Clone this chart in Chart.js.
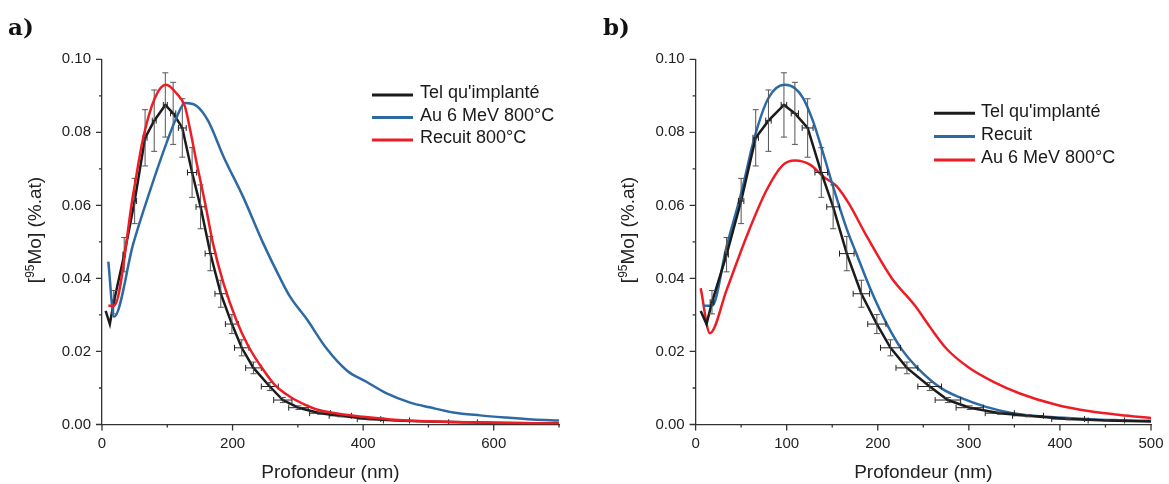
<!DOCTYPE html>
<html><head><meta charset="utf-8">
<script src="https://cdn.jsdelivr.net/npm/chart.js@4.4.1/dist/chart.umd.min.js"></script>
<style>
html,body{margin:0;padding:0;background:#fff;}
#wrap{position:relative;width:1169px;height:484px;overflow:hidden;background:#fff;}
canvas{position:absolute;top:0;}
.lab{position:absolute;font-family:'DejaVu Serif','Liberation Serif',serif;font-weight:bold;font-size:23px;line-height:22px;color:#111;}
</style></head><body>
<div id="wrap">
<canvas id="ca" width="585" height="484" style="left:0px"></canvas>
<canvas id="cb" width="579" height="484" style="left:590px"></canvas>
<div class="lab" style="left:8px;top:16px">a)</div>
<div class="lab" style="left:603px;top:16px">b)</div>
</div>
<script>
// ---- Data (depth in nm, concentration in %.at) ----
// "Tel qu'implanté" (as implanted) with error bars – same in both panels
const DEPTH_TQI = [5.6, 12, 18, 34, 50, 66, 80, 97, 109, 123, 138, 151, 166, 182, 199, 214, 232, 257, 277, 301, 334, 365, 409, 451, 500, 553, 620, 700];
const CONC_TQI  = [0.0311, 0.0275, 0.0335, 0.0465, 0.0612, 0.0785, 0.0832, 0.0875, 0.0852, 0.0812, 0.0690, 0.0596, 0.0468, 0.0358, 0.0275, 0.0210, 0.0155, 0.0104, 0.0067, 0.0046, 0.0031, 0.0024, 0.0015, 0.0011, 0.0008, 0.0006, 0.0004, 0.0003];
const ERRY_TQI  = [0, 0, 0.0032, 0.0047, 0.0062, 0.0077, 0.0084, 0.0088, 0.0085, 0.0080, 0.0068, 0.0060, 0.0047, 0.0037, 0.0026, 0.0022, 0.0016, 0.0011, 0.0007, 0.0005, 0.0003, 0.0003, 0.0002, 0.0001, 0, 0.0001, 0, 0];
const ERRX_TQI  = [0, 0, 2, 2, 3, 3, 3, 3, 4, 6, 7, 7, 8, 9, 10, 11, 12, 13, 14, 15, 16, 17, 18, 20, 0, 22, 0, 0];

// Panel a) "Au 6 MeV 800°C"
const DEPTH_A_AU = [9.7, 18.4, 48, 73.5, 99, 114, 127, 145, 163, 186, 216, 247, 273, 288, 313, 344, 375, 405, 436, 472, 502, 538, 579, 620, 660, 700];
const CONC_A_AU  = [0.0446, 0.0295, 0.0496, 0.0640, 0.0772, 0.0840, 0.0880, 0.0872, 0.0830, 0.0734, 0.0624, 0.0496, 0.0400, 0.0350, 0.0290, 0.0208, 0.0148, 0.0117, 0.0085, 0.0060, 0.0047, 0.0033, 0.0025, 0.0019, 0.0014, 0.0011];
// Panel a) "Recuit 800°C"
const DEPTH_A_REC = [9.7, 18.4, 48, 63, 81, 98, 114, 127, 135, 145, 158, 170, 186, 206, 224, 247, 265, 288, 310, 329, 360, 400, 442, 500, 600, 700];
const CONC_A_REC  = [0.0325, 0.0325, 0.0633, 0.0784, 0.0894, 0.0930, 0.0907, 0.0871, 0.0807, 0.0716, 0.0606, 0.0496, 0.0387, 0.0285, 0.0215, 0.0150, 0.0108, 0.0076, 0.0055, 0.0041, 0.0030, 0.0021, 0.0014, 0.0009, 0.0005, 0.0003];

// Panel b) "Recuit"
const DEPTH_B_REC = [8, 18, 34, 50, 65, 80, 98, 109, 118, 129, 140, 151, 166, 177, 193, 210, 226, 244, 270, 292, 318, 348, 385, 422, 460, 500];
const CONC_B_REC  = [0.0325, 0.0325, 0.0487, 0.0633, 0.0789, 0.0894, 0.0930, 0.0921, 0.0894, 0.0830, 0.0743, 0.0651, 0.0535, 0.0465, 0.0365, 0.0275, 0.0207, 0.0154, 0.0099, 0.0072, 0.0049, 0.0031, 0.0021, 0.0016, 0.0012, 0.0010];
// Panel b) "Au 6 MeV 800°C"
const DEPTH_B_AU = [5.6, 15.8, 34, 56, 78, 96, 109, 126, 140, 155, 168, 188, 215, 241, 257, 276, 301, 327, 356, 396, 433, 466, 500];
const CONC_B_AU  = [0.0373, 0.0250, 0.0368, 0.0515, 0.0642, 0.0711, 0.0723, 0.0711, 0.0679, 0.0652, 0.0606, 0.0515, 0.0402, 0.0325, 0.0268, 0.0206, 0.0154, 0.0117, 0.0085, 0.0054, 0.0036, 0.0026, 0.0018];

// Ticks
const X_MAJOR_A = [0, 200, 400, 600];
const X_MINOR_A = [100, 300, 500, 700];
const X_MAJOR_B = [0, 100, 200, 300, 400, 500];
const X_MINOR_B = [50, 150, 250, 350, 450];
const Y_MAJOR = [0, 0.02, 0.04, 0.06, 0.08, 0.10];
const Y_MINOR = [0.01, 0.03, 0.05, 0.07, 0.09];

const LABEL_TQI = "Tel qu'implanté";
const LABEL_AU = "Au 6 MeV 800°C";
const LABEL_REC_A = "Recuit 800°C";
const LABEL_REC_B = "Recuit";

const C_BLACK = '#1b1b1b', C_BLUE = '#2d6aa3', C_RED = '#ee1d25';
const FONT = "'Liberation Sans', Arial, sans-serif";

function pts(xs, ys){ return xs.map((x,i)=>({x:x, y:ys[i]})); }

const decor = {
  id: 'decor',
  afterDatasetDraw(chart, args) {
    const ds = chart.data.datasets[args.index];
    if (!ds.errY) return;
    const xs = chart.scales.x, ys = chart.scales.y, ctx = chart.ctx, a = chart.chartArea;
    ctx.save();
    ctx.beginPath(); ctx.rect(a.left, a.top - 10, a.right - a.left, a.bottom - a.top + 10); ctx.clip();
    ctx.lineWidth = 1;
    ds.data.forEach((p, i) => {
      const ey = ds.errY[i], ex = ds.errX[i];
      const px = xs.getPixelForValue(p.x), py = ys.getPixelForValue(p.y);
      if (ey > 0) {
        const t = ys.getPixelForValue(p.y + ey), b = ys.getPixelForValue(p.y - ey);
        ctx.strokeStyle = '#555';
        ctx.beginPath();
        ctx.moveTo(px, t); ctx.lineTo(px, b);
        ctx.moveTo(px - 3, t); ctx.lineTo(px + 3, t);
        ctx.moveTo(px - 3, b); ctx.lineTo(px + 3, b);
        ctx.stroke();
      }
      if (ex > 0) {
        const l = xs.getPixelForValue(p.x - ex), r = xs.getPixelForValue(p.x + ex);
        ctx.strokeStyle = '#222';
        ctx.beginPath();
        ctx.moveTo(l, py); ctx.lineTo(r, py);
        ctx.moveTo(l, py - 3); ctx.lineTo(l, py + 3);
        ctx.moveTo(r, py - 3); ctx.lineTo(r, py + 3);
        ctx.stroke();
      }
    });
    ctx.restore();
  },
  afterDraw(chart, args, o) {
    const ctx = chart.ctx, xs = chart.scales.x, ys = chart.scales.y, a = chart.chartArea;
    ctx.save();
    ctx.strokeStyle = '#333'; ctx.lineWidth = 1.3;
    ctx.beginPath();
    o.xMajor.forEach(v => { const p = xs.getPixelForValue(v); ctx.moveTo(p, a.bottom); ctx.lineTo(p, a.bottom + 6); });
    o.xMinor.forEach(v => { const p = xs.getPixelForValue(v); ctx.moveTo(p, a.bottom); ctx.lineTo(p, a.bottom + 3); });
    o.yMajor.forEach(v => { const p = ys.getPixelForValue(v); ctx.moveTo(a.left, p); ctx.lineTo(a.left - 6, p); });
    o.yMinor.forEach(v => { const p = ys.getPixelForValue(v); ctx.moveTo(a.left, p); ctx.lineTo(a.left - 3, p); });
    ctx.stroke();
    ctx.restore();

    // y title with superscript
    ctx.save();
    ctx.translate(o.yTitleX, o.yTitleY);
    ctx.rotate(-Math.PI / 2);
    ctx.fillStyle = '#222';
    ctx.textBaseline = 'alphabetic';
    const big = "19px " + FONT, small = "12px " + FONT;
    ctx.font = big; const w1 = ctx.measureText('[').width;
    ctx.font = small; const w2 = ctx.measureText('95').width;
    ctx.font = big; const w3 = ctx.measureText('Mo] (%.at)').width;
    let x0 = -(w1 + w2 + w3) / 2;
    ctx.font = big; ctx.fillText('[', x0, 0);
    ctx.font = small; ctx.fillText('95', x0 + w1, -7);
    ctx.font = big; ctx.fillText('Mo] (%.at)', x0 + w1 + w2, 0);
    ctx.restore();

    // legend
    ctx.save();
    ctx.font = "18px " + FONT;
    ctx.textBaseline = 'middle';
    o.legend.forEach((it, i) => {
      const y = o.legY + i * o.legDy;
      ctx.strokeStyle = it.color; ctx.lineWidth = 3;
      ctx.beginPath(); ctx.moveTo(o.legX0, y); ctx.lineTo(o.legX1, y); ctx.stroke();
      ctx.fillStyle = '#1a1a1a';
      ctx.fillText(it.label, o.legTx, y - 1.5);
    });
    ctx.restore();
  }
};

function makeChart(id, datasets, xMax, xMajor, xMinor, yAxisW, padRight, deco) {
  return new Chart(document.getElementById(id), {
    type: 'line',
    data: { datasets: datasets },
    plugins: [decor],
    options: {
      responsive: false,
      animation: false,
      devicePixelRatio: 1,
      layout: { padding: { left: 0, right: padRight, top: 59.3, bottom: 0 } },
      plugins: { legend: { display: false }, tooltip: { enabled: false }, decor: deco },
      elements: { point: { radius: 0 } },
      scales: {
        x: {
          type: 'linear', min: 0, max: xMax,
          afterBuildTicks: s => { s.ticks = xMajor.map(v => ({ value: v })); },
          afterFit: s => { s.height = 59.5; },
          grid: { display: true, drawOnChartArea: false, drawTicks: true, tickLength: 6, color: 'rgba(0,0,0,0)' },
          border: { display: true, color: '#333', width: 1.3 },
          ticks: { padding: 4, color: '#222', font: { family: FONT, size: 15 }, maxRotation: 0, callback: v => String(v) },
          title: { display: true, text: 'Profondeur (nm)', color: '#222', font: { family: FONT, size: 19 }, padding: { top: 1, bottom: 0 } }
        },
        y: {
          type: 'linear', min: 0, max: 0.1,
          afterBuildTicks: s => { s.ticks = Y_MAJOR.map(v => ({ value: v })); },
          afterFit: s => { s.width = yAxisW; },
          grid: { display: true, drawOnChartArea: false, drawTicks: true, tickLength: 6, color: 'rgba(0,0,0,0)' },
          border: { display: true, color: '#333', width: 1.3 },
          ticks: { padding: 5, color: '#222', font: { family: FONT, size: 15 }, callback: v => Number(v).toFixed(2) }
        }
      }
    }
  });
}

function tqiDataset(order) {
  return { label: LABEL_TQI, data: pts(DEPTH_TQI, CONC_TQI), errY: ERRY_TQI, errX: ERRX_TQI,
    borderColor: C_BLACK, borderWidth: 2.5, tension: 0, order: order, fill: false };
}

makeChart('ca', [
  tqiDataset(2),
  { label: LABEL_AU, data: pts(DEPTH_A_AU, CONC_A_AU), borderColor: C_BLUE, borderWidth: 2.5, cubicInterpolationMode: 'monotone', order: 1, fill: false },
  { label: LABEL_REC_A, data: pts(DEPTH_A_REC, CONC_A_REC), borderColor: C_RED, borderWidth: 2.5, cubicInterpolationMode: 'monotone', order: 0, fill: false }
], 700, X_MAJOR_A, X_MINOR_A, 102, 26, {
  xMajor: X_MAJOR_A, xMinor: X_MINOR_A, yMajor: Y_MAJOR, yMinor: Y_MINOR,
  yTitleX: 41, yTitleY: 230,
  legend: [{ label: LABEL_TQI, color: C_BLACK }, { label: LABEL_AU, color: C_BLUE }, { label: LABEL_REC_A, color: C_RED }],
  legX0: 372, legX1: 413, legTx: 420, legY: 95, legDy: 22.5
});

makeChart('cb', [
  tqiDataset(0),
  { label: LABEL_REC_B, data: pts(DEPTH_B_REC, CONC_B_REC), borderColor: C_BLUE, borderWidth: 2.5, cubicInterpolationMode: 'monotone', order: 1, fill: false },
  { label: LABEL_AU, data: pts(DEPTH_B_AU, CONC_B_AU), borderColor: C_RED, borderWidth: 2.5, cubicInterpolationMode: 'monotone', order: 2, fill: false }
], 500, X_MAJOR_B, X_MINOR_B, 105.6, 18, {
  xMajor: X_MAJOR_B, xMinor: X_MINOR_B, yMajor: Y_MAJOR, yMinor: Y_MINOR,
  yTitleX: 44, yTitleY: 230,
  legend: [{ label: LABEL_TQI, color: C_BLACK }, { label: LABEL_REC_B, color: C_BLUE }, { label: LABEL_AU, color: C_RED }],
  legX0: 344, legX1: 385, legTx: 391, legY: 113.3, legDy: 23.3
});
</script>
</body></html>
